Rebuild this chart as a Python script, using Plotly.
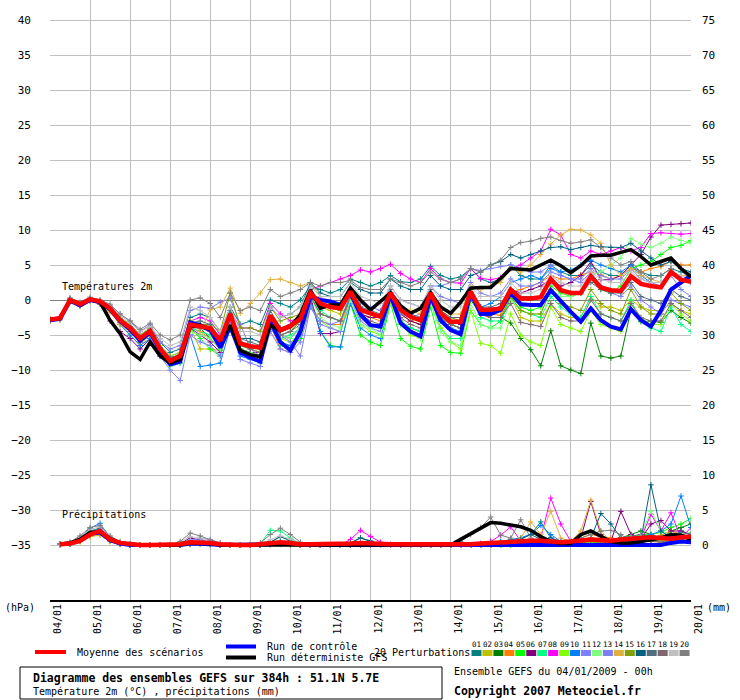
import plotly.graph_objects as go

# time steps (hours after 04/01/2009 00h)
hours = list(range(0, 385, 6))
hours_rr = hours[1:]
day_labels = ["04/01", "05/01", "06/01", "07/01", "08/01", "09/01", "10/01", "11/01", "12/01",
              "13/01", "14/01", "15/01", "16/01", "17/01", "18/01", "19/01", "20/01"]

# 2m temperature (°C)
t2m_mean = [-2.8, -2.6, 0.0, -0.6, 0.1, -0.2, -1.2, -2.9, -4.0, -5.5,
            -4.4, -7.0, -8.7, -8.0, -3.5, -3.7, -4.0, -5.8, -2.0, -6.2,
            -6.6, -6.8, -2.2, -4.3, -3.7, -2.7, 1.0, -0.5, -1.0, -1.2,
            1.2, -1.4, -1.9, -2.4, 1.0, -1.4, -2.4, -2.9, 1.0, -1.9,
            -3.1, -3.1, 1.2, -1.4, -1.4, -1.2, 1.5, 0.2, 0.2, 0.4,
            3.0, 1.4, 1.0, 1.0, 3.4, 1.8, 1.4, 1.3, 3.4, 2.3,
            2.0, 1.8, 4.0, 2.9, 2.6]
t2m_gfs = [-2.8, -2.6, 0.0, -0.6, 0.1, -0.3, -2.9, -4.8, -7.4, -8.5,
           -6.0, -8.0, -9.0, -8.5, -3.8, -3.6, -4.2, -5.7, -3.6, -7.2,
           -7.8, -8.1, -3.6, -4.4, -3.8, -2.1, 1.4, -1.2, -0.7, -0.7,
           1.7, 0.0, -1.4, -0.2, 1.0, -0.8, -1.9, -1.2, 1.0, -1.0,
           -1.9, -0.3, 1.7, 1.8, 1.8, 3.1, 4.5, 4.4, 4.3, 5.0,
           5.7, 4.9, 3.9, 4.9, 6.3, 6.4, 6.4, 6.8, 7.2, 6.2,
           5.0, 5.5, 6.0, 4.5, 3.3]
t2m_ctrl = [-2.9, -2.7, -0.1, -0.8, 0.0, -0.3, -1.3, -3.0, -4.2, -5.8,
            -4.6, -7.2, -9.2, -8.8, -3.2, -3.6, -4.3, -6.8, -3.8, -7.5,
            -8.2, -8.8, -3.0, -6.0, -7.2, -4.5, 0.5, 0.0, -0.2, -0.7,
            1.0, -2.1, -3.6, -3.8, 0.7, -3.3, -4.5, -5.2, 0.5, -2.9,
            -4.3, -4.9, 1.0, -2.0, -2.0, -1.4, 1.0, -0.6, -0.7, -0.7,
            1.4, -0.2, -1.7, -3.1, -1.2, -2.9, -3.8, -4.2, -1.3, -2.9,
            -3.8, -1.5, 1.5, 2.5, 3.5]

t2m_p01 = [-2.8, -2.5, 0.2, -0.4, 0.2, -0.1, -1.0, -2.5, -3.5, -5.0,
           -4.0, -6.0, -7.5, -7.0, -2.5, -2.0, -2.5, -4.5, -1.0, -3.5,
           -3.0, -3.5, 0.0, -0.5, -1.0, 0.0, 2.0, 1.5, 1.0, 1.5,
           3.0, 2.5, 2.0, 2.5, 3.5, 2.6, 2.5, 3.0, 4.8, 3.5,
           3.0, 3.3, 4.5, 3.0, 2.5, 3.0, 5.0, 3.5, 3.0, 3.0,
           5.0, 4.0, 3.5, 3.5, 5.0, 4.0, 3.5, 3.5, 5.0, 4.0,
           3.5, 3.5, 4.5, 4.0, 3.5]
t2m_p02 = [-2.9, -2.7, -0.1, -0.7, 0.0, -0.4, -1.6, -3.5, -5.0, -6.5,
           -5.0, -7.5, -9.0, -8.5, -4.0, -7.0, -7.0, -7.2, -3.0, -6.5,
           -7.0, -7.5, -2.5, -4.5, -4.0, -3.0, 1.0, -1.0, -1.5, -2.0,
           1.0, -1.5, -2.0, -2.5, 0.5, -2.0, -3.0, -3.5, 0.5, -2.5,
           -3.5, -4.0, 0.5, -1.0, -1.5, -1.5, 0.5, -2.5, -3.0, -3.0,
           -0.5, -2.0, -2.5, -2.5, 0.5, -1.0, -1.0, -1.5, 0.0, -1.0,
           -1.5, -1.5, -0.5, -1.5, -2.0]
t2m_p03 = [-2.8, -2.6, 0.0, -0.6, 0.0, -0.3, -1.3, -3.0, -4.0, -5.5,
           -4.5, -7.0, -8.5, -8.0, -3.5, -4.0, -5.5, -7.0, -3.0, -6.0,
           -6.5, -7.0, -3.0, -5.0, -4.5, -3.0, 0.5, -2.0, -2.5, -3.0,
           0.5, -2.5, -3.5, -4.0, 0.0, -3.0, -4.0, -4.5, 0.0, -2.5,
           -3.5, -4.0, 0.0, -2.0, -2.5, -2.5, -3.3, -5.5, -7.1, -9.4,
           -4.4, -9.4, -10.0, -10.5, -3.3, -8.0, -8.3, -8.0, -1.4, -3.1,
           -3.0, -3.2, -1.5, -2.5, -3.3]
t2m_p04 = [-2.9, -2.7, -0.1, -0.7, 0.0, -0.4, -1.5, -3.3, -4.5, -6.0,
           -5.0, -7.5, -9.0, -8.5, -4.0, -4.5, -5.5, -7.0, -2.5, -7.0,
           -7.5, -7.5, -3.5, -7.0, -7.5, -5.0, -0.5, -3.0, -3.5, -3.5,
           0.5, -2.0, -2.5, -3.0, 0.5, -2.0, -3.0, -3.5, 0.5, -2.0,
           -3.0, -3.0, 0.5, -2.0, -2.0, -2.2, 1.0, 1.5, 2.0, 2.5,
           3.5, 3.0, 3.0, 3.6, 4.0, 3.6, 3.0, 3.5, 4.5, 4.0,
           4.5, 4.8, 5.5, 5.0, 5.0]
t2m_p05 = [-3.0, -2.8, -0.1, -0.7, 0.0, -0.4, -1.5, -3.0, -4.5, -6.0,
           -5.0, -7.5, -9.5, -9.0, -4.0, -5.5, -7.0, -8.0, -3.0, -7.5,
           -8.0, -8.5, -3.5, -6.5, -7.0, -5.5, 0.0, -4.5, -6.5, -6.7,
           -0.5, -5.0, -6.0, -6.5, -0.5, -5.5, -6.6, -7.0, -1.0, -6.5,
           -7.5, -7.6, -1.5, -3.5, -4.0, -3.0, 0.5, -1.0, -1.5, -1.0,
           2.0, 1.0, 0.5, 1.0, 3.0, 1.5, 1.0, 2.0, 4.5, 5.0,
           5.5, 6.5, 7.5, 7.8, 8.5]
t2m_p06 = [-2.9, -2.7, -0.2, -0.8, -0.1, -0.6, -3.0, -4.5, -5.5, -7.0,
           -5.5, -8.0, -9.0, -8.5, -4.0, -5.0, -6.0, -7.5, -3.0, -7.0,
           -7.5, -7.5, -2.5, -5.0, -5.5, -4.0, 0.5, -4.8, -4.8, -4.5,
           0.5, -2.0, -2.5, -2.5, 1.0, -2.0, -3.0, -3.5, 0.5, -2.0,
           -3.0, -3.5, 0.5, -1.0, -1.5, -1.0, 1.5, 1.0, 1.5, 2.0,
           3.0, 2.0, 2.5, 3.5, 5.5, 2.9, 2.9, 3.5, 5.0, 6.5,
           9.0, 10.7, 10.8, 10.9, 11.0]
t2m_p07 = [-2.9, -2.7, 0.0, -0.7, 0.0, -0.4, -1.4, -3.2, -4.5, -6.0,
           -5.0, -7.5, -9.0, -8.5, -4.0, -4.5, -5.0, -7.0, -2.5, -7.0,
           -7.5, -8.0, -3.0, -5.5, -5.0, -4.0, 0.5, -1.5, -2.5, -3.0,
           0.5, -2.5, -3.5, -4.0, 0.5, -3.0, -4.0, -4.5, 0.5, -4.0,
           -5.5, -5.5, 0.5, -2.5, -3.0, -3.0, 0.0, -1.5, -2.0, -2.5,
           0.5, -1.0, -2.0, -2.5, 0.5, -2.0, -2.5, -3.0, 0.0, -3.0,
           -4.0, -4.5, -1.0, -3.5, -4.5]
t2m_p08 = [-2.8, -2.5, 0.1, -0.5, 0.1, -0.2, -1.0, -2.5, -3.5, -5.0,
           -4.0, -6.5, -8.0, -7.5, -3.0, -2.5, -3.0, -5.0, -1.5, -4.0,
           -4.0, -4.5, -0.5, -2.0, -3.0, -2.5, 1.5, 2.0, 2.5, 3.0,
           3.5, 4.3, 4.0, 4.5, 5.1, 3.8, 3.0, 2.5, 4.5, 3.0,
           2.5, 2.4, 4.5, 3.1, 2.9, 3.2, 4.5, 5.0, 6.0, 7.0,
           10.1, 9.3, 6.5, 6.0, 7.0, 6.5, 7.0, 7.5, 7.0, 7.5,
           9.5, 9.6, 9.5, 9.4, 9.5]
t2m_p09 = [-2.8, -2.6, 0.1, -0.5, 0.1, -0.2, -1.0, -2.5, -3.5, -5.0,
           -4.0, -6.5, -8.0, -7.5, -3.0, -3.5, -4.5, -6.5, -2.5, -6.5,
           -7.0, -7.5, -2.5, -5.5, -6.0, -5.0, -1.0, -3.0, -4.0, -4.5,
           -0.5, -3.5, -4.5, -5.0, -0.5, -3.5, -5.0, -5.5, -0.5, -4.0,
           -6.0, -7.0, -1.5, -6.2, -6.5, -7.6, -2.0, -5.0, -6.0, -6.5,
           -1.0, -3.5, -4.0, -4.5, -1.5, -3.5, -4.0, -4.5, -0.5, -2.5,
           -3.5, -3.5, -0.5, -2.0, -3.0]
t2m_p10 = [-3.0, -2.8, -0.2, -0.8, -0.1, -0.5, -1.5, -3.5, -5.0, -6.5,
           -5.5, -8.0, -9.5, -9.0, -5.0, -9.5, -9.3, -9.0, -4.0, -8.0,
           -8.5, -9.0, -4.0, -6.0, -6.5, -5.0, 0.0, -4.5, -6.7, -6.7,
           -0.5, -4.0, -5.0, -5.5, 0.0, -3.5, -4.5, -5.0, 0.0, -3.0,
           -4.0, -4.5, 0.5, -1.0, -0.5, 0.5, 2.5, 3.0, 3.5, 3.0,
           4.5, 4.0, 4.3, 5.0, 5.7, 5.0, 4.5, 4.0, 5.0, 3.5,
           2.5, 2.5, 4.0, 3.0, 2.5]
t2m_p11 = [-2.9, -2.7, 0.0, -0.6, 0.0, -0.3, -1.2, -3.0, -4.5, -6.0,
           -5.0, -8.0, -10.0, -11.5, -5.0, -6.0, -6.5, -8.0, -3.0, -8.5,
           -9.0, -9.5, -4.5, -7.0, -7.5, -6.0, -1.0, -3.5, -4.0, -4.5,
           0.0, -3.0, -4.0, -4.5, 0.5, -2.0, -2.5, -2.0, 2.0, 2.0,
           2.5, 3.0, 4.5, 4.2, 4.5, 4.8, 5.0, 4.5, 4.0, 4.0,
           5.0, 3.5, 3.0, 2.5, 4.0, 2.0, 1.0, 0.5, 2.0, 0.0,
           -1.0, -2.0, 0.0, -0.5, -1.0]
t2m_p12 = [-2.9, -2.6, 0.0, -0.6, 0.1, -0.3, -1.3, -3.0, -4.2, -5.8,
           -4.8, -7.5, -9.5, -9.0, -4.5, -5.0, -5.5, -7.0, -2.5, -7.0,
           -7.5, -8.0, -2.5, -5.0, -5.5, -4.0, 0.5, -2.5, -3.5, -4.0,
           0.0, -3.5, -4.0, -5.0, 0.0, -3.5, -4.5, -5.5, -0.5, -4.5,
           -6.0, -6.5, -0.5, -3.5, -4.0, -4.0, 0.0, -1.5, -2.0, -2.0,
           1.5, 0.5, 0.5, 1.0, 3.5, 4.0, 5.0, 6.0, 8.8, 8.0,
           7.5, 8.1, 9.0, 8.5, 8.1]
t2m_p13 = [-2.8, -2.5, 0.2, -0.4, 0.2, -0.1, -0.8, -2.0, -3.0, -4.5,
           -3.5, -6.0, -7.0, -6.5, -1.5, -1.0, -1.2, -0.3, 0.2, -3.5,
           -7.0, -8.0, -2.5, -5.0, -6.0, -8.0, -1.0, -3.0, -3.5, -3.0,
           1.0, -0.5, -1.0, -1.5, 2.0, 0.0, -0.5, -1.0, 2.0, 0.5,
           0.0, -0.5, 2.5, 1.0, 0.5, 1.0, 3.0, 2.0, 2.0, 2.5,
           4.0, 3.5, 3.0, 3.0, 4.5, 3.5, 3.0, 3.0, 4.5, 3.0,
           2.5, 2.0, 3.5, 1.5, 0.5]
t2m_p14 = [-3.0, -2.8, -0.2, -0.9, -0.2, -0.5, -1.8, -3.5, -4.5, -6.0,
           -5.0, -7.0, -8.5, -8.0, -3.0, -4.5, -1.4, -1.0, 1.7, -1.9,
           -0.5, 1.0, 2.9, 3.0, 2.5, 2.0, 2.5, 0.5, -0.5, -1.0,
           1.0, -1.5, -2.0, -2.5, 1.5, -1.0, -1.5, -2.0, 1.5, -1.0,
           -2.0, -2.0, 2.0, 1.5, 2.0, 2.5, 4.5, 4.0, 5.0, 6.5,
           8.0, 9.3, 10.1, 10.0, 9.3, 8.1, 5.0, 3.5, 4.5, 3.5,
           3.0, 2.5, 4.0, 3.5, 3.5]
t2m_p15 = [-2.8, -2.6, 0.1, -0.5, 0.1, -0.2, -1.2, -2.8, -4.0, -5.5,
           -4.5, -7.0, -8.5, -8.0, -3.0, -3.5, -3.5, -4.5, 1.0, -4.0,
           -4.0, -4.5, -1.0, -3.0, -2.5, -2.0, 1.5, -0.5, -1.0, -1.5,
           1.5, -1.0, -2.0, -2.5, 1.0, -1.5, -2.5, -3.0, 1.0, -1.5,
           -2.5, -3.0, 1.5, -2.0, -2.5, -2.5, 0.5, -1.5, -2.0, -2.0,
           1.5, -0.5, -1.0, -1.5, 1.5, -0.5, -1.5, -2.0, 1.5, -1.0,
           -2.0, -2.0, 1.0, -0.5, -1.5]
t2m_p16 = [-2.8, -2.6, 0.1, -0.5, 0.1, -0.2, -1.1, -2.8, -4.0, -5.5,
           -4.5, -7.0, -8.5, -8.0, -3.5, -3.5, -4.0, -6.0, -2.0, -5.5,
           -5.5, -6.0, -1.0, -2.5, -2.0, -1.0, 2.5, 1.0, 0.5, 0.5,
           2.5, 1.5, 1.0, 1.0, 3.0, 2.0, 1.5, 1.5, 3.5, 2.0,
           1.5, 1.5, 3.5, 4.0, 5.0, 5.5, 6.5, 6.0, 6.5, 7.0,
           7.5, 7.6, 7.2, 7.5, 7.8, 7.6, 7.5, 7.5, 8.1, 7.0,
           6.0, 5.0, 5.5, 4.5, 4.0]
t2m_p17 = [-2.8, -2.6, 0.0, -0.5, 0.1, -0.2, -1.1, -2.7, -3.8, -5.2,
           -4.2, -6.8, -8.2, -7.8, -3.3, -3.0, -3.5, -5.5, -1.5, -5.5,
           -6.0, -6.5, -1.5, -4.0, -3.5, -2.5, 1.5, -0.5, -1.0, -1.0,
           1.5, -1.0, -1.5, -2.0, 1.5, -1.0, -2.0, -2.5, 1.5, -1.5,
           -2.5, -2.5, 1.0, -1.0, -1.0, -0.5, 1.5, 0.5, 0.5, 0.5,
           2.5, 1.5, 1.0, 1.0, 2.5, 1.5, 1.0, 1.0, 2.5, 0.5,
           0.0, -0.5, 1.5, 0.5, 0.0]
t2m_p18 = [-2.9, -2.6, 0.0, -0.6, 0.0, -0.3, -1.4, -3.2, -4.5, -6.0,
           -5.0, -7.5, -9.0, -8.5, -4.0, -4.0, -4.5, -6.5, -2.5, -6.5,
           -7.0, -7.5, -3.0, -5.0, -4.5, -3.5, 0.5, -2.0, -2.5, -3.0,
           0.5, -2.0, -3.0, -3.5, 0.5, -2.5, -3.5, -4.0, 0.5, -2.5,
           -3.5, -4.0, 0.5, -2.0, -2.5, -2.5, -0.5, -3.2, -3.5, -3.8,
           -0.5, -2.5, -3.0, -3.0, 0.0, -2.0, -2.5, -3.0, -0.5, -2.5,
           -3.0, -3.0, -0.5, -1.5, -2.5]
t2m_p19 = [-2.7, -2.5, 0.2, -0.4, 0.2, -0.1, -0.8, -2.2, -3.2, -4.5,
           -3.8, -5.5, -6.5, -6.0, -1.0, -1.5, -2.5, -4.5, -1.0, -4.5,
           -4.5, -5.0, -1.0, -2.5, -2.0, -1.0, 2.0, 0.5, 0.5, 0.5,
           2.5, 0.5, 0.0, -0.5, 2.0, 0.0, -0.5, -1.0, 2.0, 0.0,
           -1.0, -1.0, 2.0, 0.5, 0.5, 0.5, 2.5, 1.0, 1.0, 1.5,
           3.5, 2.5, 2.0, 2.0, 4.0, 3.0, 2.5, 2.5, 4.0, 3.0,
           2.5, 2.5, 4.0, 3.5, 3.0]
t2m_p20 = [-2.7, -2.4, 0.3, -0.3, 0.4, 0.0, -0.6, -2.0, -3.0, -4.2,
           -3.3, -5.0, -5.7, -5.0, 0.0, 0.3, -0.5, -2.5, 1.0, -1.5,
           -1.0, -1.5, 1.5, 0.5, 1.0, 1.5, 2.5, 2.0, 2.5, 2.5,
           2.8, 1.8, 1.5, 1.5, 3.0, 2.5, 2.0, 2.5, 4.0, 3.0,
           2.5, 3.0, 4.5, 4.0, 5.0, 5.7, 7.5, 8.2, 8.4, 8.8,
           9.0, 8.5, 8.1, 8.3, 8.6, 7.5, 6.0, 5.0, 5.5, 4.0,
           3.0, 3.5, 4.5, 3.0, 2.5]

# precipitation (mm per 6h), from +6h
rr_mean = [0.1, 0.2, 0.6, 1.5, 2.0, 0.8, 0.3, 0.1, 0, 0, 0, 0, 0.1, 0.4, 0.4, 0.3,
           0.1, 0, 0, 0, 0.1, 0.3, 0.4, 0.3, 0.1, 0.1, 0.1, 0.1, 0.1, 0.2, 0.3, 0.2,
           0.1, 0.1, 0.1, 0.1, 0, 0, 0, 0, 0.1, 0.1, 0.2, 0.3, 0.3, 0.4, 0.5, 0.6,
           0.6, 0.5, 0.4, 0.5, 0.7, 0.8, 0.7, 0.6, 0.8, 0.9, 1.0, 1.1, 1.0, 0.9, 1.1, 1.2]
rr_gfs = [0.1, 0.3, 0.8, 1.8, 1.9, 0.9, 0.3, 0.1, 0, 0, 0, 0, 0, 0.3, 0.3, 0.2,
          0, 0, 0, 0, 0, 0, 0.1, 0.1, 0, 0, 0, 0, 0, 0, 0, 0,
          0, 0, 0, 0, 0, 0, 0, 0, 0.8, 1.6, 2.4, 3.2, 3.1, 2.9, 2.6, 2.1,
          1.2, 0.5, 0.2, 0.2, 1.5, 2.0, 1.3, 0.5, 0.3, 0.3, 0.5, 0.8, 1.0, 1.5, 1.4, 0.8]
rr_ctrl = [0.1, 0.2, 0.7, 1.6, 1.8, 0.7, 0.2, 0, 0, 0, 0, 0, 0, 0.2, 0.2, 0.1,
           0, 0, 0, 0, 0, 0.1, 0.2, 0.1, 0, 0, 0, 0, 0, 0, 0, 0,
           0, 0, 0, 0, 0, 0, 0, 0, 0, 0, 0, 0, 0, 0, 0, 0,
           0, 0, 0, 0, 0, 0, 0, 0, 0, 0, 0, 0, 0, 0.3, 0.5, 0.4]

rr_p01 = [0.1, 0.3, 0.9, 2.0, 2.4, 0.9, 0.2, 0, 0, 0, 0, 0, 0, 0.3, 0.3, 0.2,
          0, 0, 0, 0, 0, 0.4, 1.2, 0.6, 0.1, 0, 0, 0, 0, 0.3, 1.0, 0.5,
          0, 0, 0, 0, 0, 0, 0, 0, 0, 0, 0.2, 0.5, 0.5, 0.8, 1.0, 1.5,
          3.3, 1.0, 0.3, 0.2, 0.5, 1.0, 0.5, 0.3, 0.5, 1.0, 1.5, 1.2, 0.8, 1.0, 2.0, 1.5]
rr_p02 = [0.1, 0.2, 0.5, 1.2, 1.4, 0.5, 0.1, 0, 0, 0, 0, 0, 0, 0.2, 0.2, 0.1,
          0, 0, 0, 0, 0, 0.1, 0.2, 0.1, 0, 0, 0, 0, 0, 0, 0, 0,
          0, 0, 0, 0, 0, 0, 0, 0, 0, 0, 0, 0, 0.1, 0.2, 0.3, 0.5,
          0.8, 0.5, 0.3, 0.2, 0.5, 1.0, 0.8, 0.3, 0.2, 0.5, 0.8, 0.6, 0.4, 0.8, 1.2, 1.0]
rr_p03 = [0.1, 0.2, 0.6, 1.5, 1.7, 0.6, 0.2, 0, 0, 0, 0, 0, 0, 0.1, 0.2, 0.1,
          0, 0, 0, 0, 0, 0.1, 0.2, 0.1, 0, 0, 0, 0, 0, 0, 0, 0,
          0, 0, 0, 0, 0, 0, 0, 0, 0, 0, 0, 0.1, 0.1, 0.1, 0.1, 0.1,
          0.1, 0.1, 0.1, 0.3, 0.8, 0.5, 0.3, 0.5, 1.0, 1.5, 2.0, 1.5, 1.0, 2.0, 2.5, 3.0]
rr_p04 = [0.1, 0.2, 0.7, 1.7, 2.2, 0.9, 0.3, 0, 0, 0, 0, 0, 0, 0.2, 0.3, 0.1,
          0, 0, 0, 0, 0, 0.2, 0.3, 0.1, 0, 0, 0, 0, 0, 0, 0, 0,
          0, 0, 0, 0, 0, 0, 0, 0, 0, 0, 0, 0, 0.1, 0.2, 0.3, 0.4,
          0.5, 0.4, 0.3, 0.5, 1.0, 1.5, 1.2, 1.0, 0.8, 1.2, 1.5, 1.0, 1.4, 2.0, 1.5, 1.0]
rr_p05 = [0.1, 0.3, 0.8, 1.9, 2.3, 0.8, 0.2, 0, 0, 0, 0, 0, 0, 0.3, 0.3, 0.2,
          0, 0, 0, 0, 0, 0.3, 0.5, 0.3, 0, 0, 0, 0, 0, 0, 0, 0,
          0, 0, 0, 0, 0, 0, 0, 0, 0, 0, 0, 0, 0, 0, 0.1, 0.2,
          0.3, 0.3, 0.2, 0.3, 0.5, 0.4, 0.3, 0.5, 1.0, 1.2, 1.5, 1.5, 1.8, 2.5, 3.0, 3.8]
rr_p06 = [0.1, 0.2, 0.6, 1.6, 2.0, 0.8, 0.3, 0.1, 0, 0, 0, 0, 0.2, 1.0, 0.7, 0.3,
          0, 0, 0, 0, 0, 0.1, 0.2, 0.1, 0, 0, 0, 0, 0, 0, 0, 0,
          0, 0, 0, 0, 0, 0, 0, 0, 0, 0, 0, 0, 0.2, 0.3, 0.4, 0.5,
          0.5, 0.6, 0.5, 0.5, 1.0, 6.2, 1.5, 0.5, 4.8, 1.5, 0.8, 3.0, 3.5, 2.0, 2.0, 1.5]
rr_p07 = [0.1, 0.3, 0.8, 1.8, 2.2, 0.8, 0.2, 0, 0, 0, 0, 0, 0, 0.2, 0.3, 0.2,
          0, 0, 0, 0, 0.2, 2.1, 2.0, 1.0, 0.2, 0, 0, 0, 0, 0.2, 0.4, 0.2,
          0, 0, 0, 0, 0, 0, 0, 0, 0, 0, 0, 0, 0, 0.1, 0.2, 0.2,
          0.2, 0.3, 0.2, 0.2, 0.4, 0.5, 0.4, 0.3, 0.6, 0.8, 1.0, 0.7, 0.5, 1.0, 1.2, 1.0]
rr_p08 = [0.1, 0.2, 0.6, 1.4, 1.9, 0.7, 0.2, 0, 0, 0, 0, 0, 0, 0.2, 0.2, 0.1,
          0, 0, 0, 0, 0, 0.2, 0.4, 0.3, 0, 0, 0, 0, 0, 0.8, 2.1, 1.2,
          0.4, 0.1, 0, 0, 0, 0, 0, 0, 0, 0, 0.2, 0.5, 1.4, 2.6, 0.6, 0.5,
          1.0, 6.7, 3.0, 0.5, 0.3, 0.5, 0.4, 0.5, 0.6, 0.8, 1.0, 4.4, 2.0, 4.6, 1.0, 2.5]
rr_p09 = [0.1, 0.2, 0.5, 1.3, 1.6, 0.6, 0.2, 0, 0, 0, 0, 0, 0, 0.1, 0.1, 0.1,
          0, 0, 0, 0, 0, 0.1, 0.1, 0.1, 0, 0, 0, 0, 0, 0, 0, 0,
          0, 0, 0, 0, 0, 0, 0, 0, 0, 0, 0, 0, 0, 0.1, 0.2, 0.1,
          0.1, 0.2, 0.2, 0.3, 0.4, 0.3, 0.2, 0.4, 0.8, 1.0, 0.8, 0.5, 0.6, 0.8, 0.5, 0.6]
rr_p10 = [0.1, 0.3, 1.0, 2.4, 3.1, 1.0, 0.3, 0, 0, 0, 0, 0, 0, 0.2, 0.3, 0.2,
          0, 0, 0, 0, 0, 0.3, 0.4, 0.2, 0, 0, 0, 0, 0, 0, 0, 0,
          0, 0, 0, 0, 0, 0, 0, 0, 0, 0, 0, 0.2, 0.5, 0.8, 1.0, 1.5,
          2.8, 1.5, 0.5, 0.3, 0.5, 0.8, 0.5, 0.3, 0.5, 0.8, 1.0, 1.5, 2.0, 3.0, 7.0, 2.5]
rr_p11 = [0.1, 0.2, 0.7, 1.7, 2.1, 0.8, 0.3, 0.1, 0, 0, 0, 0, 0.3, 0.7, 0.9, 0.8,
          0.3, 0, 0, 0, 0, 0.2, 0.3, 0.2, 0, 0, 0, 0, 0, 0, 0, 0,
          0, 0, 0, 0, 0, 0, 0, 0, 0, 0, 0, 0, 0.1, 0.2, 0.3, 0.3,
          0.4, 0.4, 0.3, 0.3, 0.5, 0.8, 0.6, 0.5, 0.8, 1.0, 1.2, 0.8, 0.6, 1.0, 1.5, 1.2]
rr_p12 = [0.1, 0.2, 0.6, 1.5, 1.8, 0.7, 0.2, 0, 0, 0, 0, 0, 0, 0.2, 0.2, 0.1,
          0, 0, 0, 0, 0, 0.1, 0.2, 0.1, 0, 0, 0, 0, 0, 0, 0, 0,
          0, 0, 0, 0, 0, 0, 0, 0, 0, 0, 0, 0, 0, 0.2, 0.3, 0.2,
          0.3, 0.4, 0.3, 0.4, 0.8, 1.0, 0.6, 0.5, 0.8, 1.2, 1.5, 4.8, 2.0, 1.5, 1.5, 1.8]
rr_p13 = [0.1, 0.3, 0.8, 1.8, 2.5, 1.0, 0.3, 0.1, 0, 0, 0, 0, 0.2, 0.5, 0.6, 0.5,
          0.1, 0, 0, 0, 0, 0.2, 0.3, 0.2, 0, 0, 0, 0, 0, 0, 0, 0,
          0, 0, 0, 0, 0, 0, 0, 0, 0, 0, 0, 0, 0.2, 0.3, 0.4, 0.5,
          0.6, 0.5, 0.4, 0.5, 0.6, 0.8, 0.5, 0.4, 0.6, 0.8, 1.0, 0.8, 0.6, 0.8, 1.0, 0.8]
rr_p14 = [0.1, 0.2, 0.5, 1.2, 1.5, 0.5, 0.1, 0, 0, 0, 0, 0, 0, 0.1, 0.2, 0.1,
          0, 0, 0, 0, 0, 0.2, 0.3, 0.2, 0, 0, 0, 0, 0, 0, 0, 0,
          0, 0, 0, 0, 0, 0, 0, 0, 0, 0, 0, 0, 0.2, 0.3, 1.0, 3.3,
          1.5, 4.8, 1.0, 0.5, 2.0, 6.4, 2.0, 0.5, 0.8, 1.0, 0.8, 0.5, 0.6, 0.8, 1.0, 1.2]
rr_p15 = [0.1, 0.2, 0.6, 1.4, 1.7, 0.6, 0.2, 0, 0, 0, 0, 0, 0, 0.2, 0.2, 0.1,
          0, 0, 0, 0, 0, 0.1, 0.2, 0.1, 0, 0, 0, 0, 0, 0, 0, 0,
          0, 0, 0, 0, 0, 0, 0, 0, 0, 0, 0, 0, 0.1, 0.1, 0.2, 0.2,
          0.2, 0.3, 0.2, 0.2, 0.3, 0.5, 0.4, 0.3, 0.5, 0.6, 0.8, 0.6, 0.5, 0.7, 0.9, 0.8]
rr_p16 = [0.1, 0.3, 0.8, 1.8, 2.3, 0.9, 0.3, 0.1, 0, 0, 0, 0, 0, 0.3, 0.4, 0.3,
          0, 0, 0, 0, 0, 0.4, 1.2, 0.7, 0.2, 0, 0, 0, 0, 0.3, 1.0, 0.6,
          0.1, 0, 0, 0, 0, 0, 0, 0, 0, 0, 0, 0.1, 0.3, 0.5, 0.8, 1.5,
          0.8, 1.0, 0.5, 0.3, 0.5, 1.0, 4.5, 3.0, 1.0, 0.5, 0.8, 8.6, 2.0, 1.0, 1.5, 1.2]
rr_p17 = [0.1, 0.2, 0.6, 1.5, 1.9, 0.7, 0.2, 0, 0, 0, 0, 0, 0, 0.2, 0.3, 0.1,
          0, 0, 0, 0, 0, 0.1, 0.2, 0.1, 0, 0, 0, 0, 0, 0, 0, 0,
          0, 0, 0, 0, 0, 0, 0, 0, 0, 0, 0, 0, 0.1, 0.2, 0.3, 0.3,
          0.4, 0.5, 0.3, 0.4, 0.8, 1.0, 0.8, 0.6, 1.0, 1.2, 1.5, 1.2, 1.0, 1.5, 1.8, 1.5]
rr_p18 = [0.1, 0.2, 0.7, 1.6, 2.0, 0.8, 0.2, 0, 0, 0, 0, 0, 0, 0.2, 0.3, 0.2,
          0, 0, 0, 0, 0, 0.1, 0.2, 0.1, 0, 0, 0, 0, 0, 0, 0, 0,
          0, 0, 0, 0, 0, 0, 0, 0, 0, 0, 0, 0, 0.1, 0.1, 0.2, 0.2,
          0.3, 0.3, 0.2, 0.3, 0.5, 0.6, 0.5, 0.4, 0.6, 0.8, 0.6, 0.5, 0.4, 0.6, 0.8, 0.6]
rr_p19 = [0.1, 0.4, 1.2, 2.2, 2.6, 1.2, 0.4, 0.1, 0, 0, 0, 0, 0.4, 1.2, 1.0, 0.6,
          0.2, 0, 0, 0, 0.2, 0.8, 1.3, 0.8, 0.2, 0, 0, 0, 0, 0.2, 0.4, 0.2,
          0, 0, 0, 0, 0, 0, 0, 0, 0, 0, 0, 0, 0.2, 0.4, 0.5, 0.6,
          0.5, 0.6, 0.5, 0.6, 0.8, 1.0, 0.8, 0.6, 0.8, 1.0, 1.2, 1.0, 0.8, 1.0, 1.2, 1.0]
rr_p20 = [0.1, 0.4, 1.3, 2.5, 2.8, 1.3, 0.5, 0.1, 0, 0, 0, 0, 0.5, 1.7, 1.3, 0.7,
          0.2, 0, 0, 0, 0.3, 1.5, 2.4, 1.5, 0.4, 0, 0, 0, 0, 0.2, 0.5, 0.3,
          0.1, 0, 0, 0, 0, 0, 0, 0, 0.5, 1.5, 2.5, 4.0, 1.4, 1.0, 3.6, 1.0,
          0.5, 0.5, 0.3, 0.5, 1.0, 1.5, 2.0, 2.1, 1.5, 0.5, 0.8, 1.0, 0.8, 1.0, 1.2, 1.0]

pert_colors = ["#008080", "#c0c000", "#008000", "#ff8000", "#00ff00", "#800080", "#00ff80",
               "#ff00ff", "#80ff00", "#0080ff", "#8080ff", "#80ff80", "#7f7ff0", "#e0b040",
               "#80a000", "#006080", "#507080", "#806870", "#c0c0c0", "#808080"]

t2m_perts = [t2m_p01, t2m_p02, t2m_p03, t2m_p04, t2m_p05, t2m_p06, t2m_p07, t2m_p08, t2m_p09, t2m_p10,
             t2m_p11, t2m_p12, t2m_p13, t2m_p14, t2m_p15, t2m_p16, t2m_p17, t2m_p18, t2m_p19, t2m_p20]
rr_perts = [rr_p01, rr_p02, rr_p03, rr_p04, rr_p05, rr_p06, rr_p07, rr_p08, rr_p09, rr_p10,
            rr_p11, rr_p12, rr_p13, rr_p14, rr_p15, rr_p16, rr_p17, rr_p18, rr_p19, rr_p20]

for s in t2m_perts + [t2m_mean, t2m_gfs, t2m_ctrl]:
    assert len(s) == len(hours), len(s)
for s in rr_perts + [rr_mean, rr_gfs, rr_ctrl]:
    assert len(s) == len(hours_rr), len(s)

MONO = "DejaVu Sans Mono"
W, H = 740, 700
L, R, T, B = 50, 49, 0, 100


def px(x):
    return (x - L) / (W - L - R)


def py(y):
    return (H - B - y) / (H - T - B)


def blk(s):
    # force plain black glyphs
    return f"<span style='color:#000000'>{s}</span>"


fig = go.Figure()

for t, rr, c in zip(t2m_perts, rr_perts, pert_colors):
    style = dict(mode="lines+markers", line=dict(color=c, width=1),
                 marker=dict(symbol="cross-thin", size=4, line=dict(color=c, width=1)),
                 hoverinfo="skip", showlegend=False)
    fig.add_trace(go.Scatter(x=hours, y=t, **style))
    fig.add_trace(go.Scatter(x=hours_rr, y=rr, yaxis="y2", **style))

for t, rr, c, w in [(t2m_ctrl, rr_ctrl, "#0000ff", 4),
                    (t2m_gfs, rr_gfs, "#000000", 3.5),
                    (t2m_mean, rr_mean, "#ff0000", 4.5)]:
    fig.add_trace(go.Scatter(x=hours, y=t, mode="lines", line=dict(color=c, width=w),
                             hoverinfo="skip", showlegend=False))
    fig.add_trace(go.Scatter(x=hours_rr, y=rr, yaxis="y2", mode="lines",
                             line=dict(color=c, width=w), hoverinfo="skip", showlegend=False))

half = (H - T - B) / 2 / 7.0
fig.update_layout(
    width=W, height=H,
    margin=dict(l=L, r=R, t=T, b=B),
    paper_bgcolor="white", plot_bgcolor="white",
    font=dict(family=MONO, size=10, color="black"),
    xaxis=dict(range=[0, 384], tickvals=hours[::4], showticklabels=False,
               showgrid=True, gridcolor="#c0c0c0", gridwidth=1, zeroline=False,
               showline=True, linecolor="black", linewidth=2, ticks=""),
    yaxis=dict(range=[-half, half], tickvals=list(range(-35, 41, 5)),
               showgrid=True, gridcolor="#c0c0c0", gridwidth=1,
               zeroline=True, zerolinecolor="#808080", zerolinewidth=1,
               ticks="", ticklabelstandoff=18,
               tickfont=dict(family=MONO, size=11, color="black")),
    yaxis2=dict(range=[-half + 35, half + 35], tickvals=list(range(0, 76, 5)),
                overlaying="y", side="right", showgrid=False, zeroline=False,
                ticks="", ticklabelstandoff=10,
                tickfont=dict(family=MONO, size=11, color="black")),
)

ann = []
for k, lab in enumerate(day_labels):
    ann.append(dict(x=hours[::4][k], y=0, xref="x", yref="paper", text=lab, showarrow=False,
                    textangle=-90, xanchor="center", yanchor="top", xshift=7, yshift=-2,
                    font=dict(size=10, color="black")))
ann.append(dict(x=px(3), y=py(607), xref="paper", yref="paper", text="(hPa)", showarrow=False,
                xanchor="left", yanchor="middle", font=dict(size=10, color="black")))
ann.append(dict(x=px(719), y=py(607), xref="paper", yref="paper", text=blk("(mm)"),
                showarrow=False, xanchor="center", yanchor="middle",
                font=dict(size=10, color="black")))
ann.append(dict(x=6, y=2.0, xref="x", yref="y", text="Températures 2m", showarrow=False,
                xanchor="left", yanchor="middle", font=dict(size=10, color="black")))
ann.append(dict(x=6, y=-30.7, xref="x", yref="y", text="Précipitations", showarrow=False,
                xanchor="left", yanchor="middle", font=dict(size=10, color="black")))

legend_text = [
    (75, 652, "Moyenne des scénarios", False),
    (265, 646, "Run de contrôle", False),
    (265, 657, "Run déterministe GFS", False),
    (372, 652, "20 Perturbations", False),
    (31, 678, "Diagramme des ensembles GEFS sur 384h : 51.1N 5.7E", True),
    (31, 691.5, "Température 2m (°C) , précipitations " + blk("(mm)"), False),
    (452, 671.5, "Ensemble GEFS du 04/01/2009 - 00h", False),
    (452, 691, "Copyright 2007 Meteociel.fr", True),
]
for x, y, txt, bold in legend_text:
    ann.append(dict(x=px(x), y=py(y), xref="paper", yref="paper",
                    text=f"<b>{txt}</b>" if bold else txt, showarrow=False,
                    xanchor="left", yanchor="middle",
                    font=dict(size=11.5 if bold else 10, color="black")))

shapes = []
for x0, x1, y, c in [(35, 66, 652, "#ff0000"), (226, 256, 646.5, "#0000ff"),
                     (226, 256, 657.5, "#000000")]:
    shapes.append(dict(type="line", xref="paper", yref="paper", x0=px(x0), x1=px(x1),
                       y0=py(y), y1=py(y), line=dict(color=c, width=4)))
for k, c in enumerate(pert_colors):
    x0 = 471.5 + k * 10.95
    shapes.append(dict(type="rect", xref="paper", yref="paper", x0=px(x0), x1=px(x0 + 10),
                       y0=py(656), y1=py(650), fillcolor=c, line=dict(width=0)))
    ann.append(dict(x=px(x0 + 5), y=py(644), xref="paper", yref="paper", text=f"{k + 1:02d}",
                    showarrow=False, xanchor="center", yanchor="middle",
                    font=dict(size=7.5, color="black")))
shapes.append(dict(type="rect", xref="paper", yref="paper", x0=px(20), x1=px(442),
                   y0=py(699), y1=py(667), line=dict(color="black", width=1)))

fig.update_layout(annotations=ann, shapes=shapes)
# page body margin would shift the figure off the window edges
fig.write_html("out.html", config={"displayModeBar": False},
               post_script="document.body.style.margin='0';")
